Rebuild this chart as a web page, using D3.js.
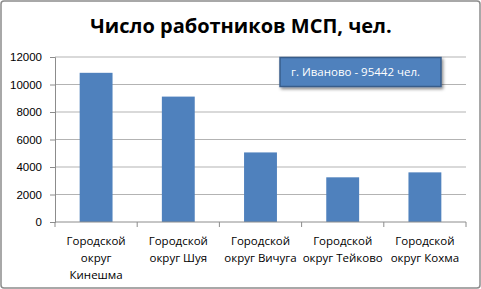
<!DOCTYPE html>
<html>
<head>
<meta charset="utf-8">
<script src="https://cdn.jsdelivr.net/npm/d3@7"></script>
<style>
  body { margin: 0; background: #fff; }
  svg { display: block; font-family: "Open Sans", "Liberation Sans", sans-serif; }
</style>
</head>
<body>
<svg id="chart"></svg>
<script>
const categories = [
  ["Городской", "округ", "Кинешма"],
  ["Городской", "округ Шуя"],
  ["Городской", "округ Вичуга"],
  ["Городской", "округ Тейково"],
  ["Городской", "округ Кохма"]
];
const values = [10850, 9120, 5060, 3250, 3610];
const yTicks = [0, 2000, 4000, 6000, 8000, 10000, 12000];
const title = "Число работников МСП, чел.";
const note = "г. Иваново - 95442 чел.";

const width = 481, height = 289;
const margin = { top: 57, right: 15, bottom: 67, left: 55 };

const svg = d3.select("#chart").attr("width", width).attr("height", height);

// outer frame
svg.append("rect")
  .attr("x", 1).attr("y", 1)
  .attr("width", width - 2).attr("height", height - 2)
  .attr("rx", 3)
  .attr("fill", "#fff")
  .attr("stroke", "#8c8c8c")
  .attr("stroke-width", 1.5);

const innerW = width - margin.left - margin.right;
const innerH = height - margin.top - margin.bottom;

const x = d3.scaleBand()
  .domain(d3.range(categories.length))
  .range([0, innerW])
  .paddingInner(0.6)
  .paddingOuter(0.3);

const xBand = d3.scaleBand()
  .domain(d3.range(categories.length))
  .range([0, innerW]);

const y = d3.scaleLinear().domain([0, 12000]).range([innerH, 0]);

const g = svg.append("g").attr("transform", `translate(${margin.left},${margin.top})`);

// gridlines
g.append("g")
  .selectAll("line")
  .data(yTicks.slice(1))
  .join("line")
  .attr("x1", 0).attr("x2", innerW)
  .attr("y1", d => y(d)).attr("y2", d => y(d))
  .attr("stroke", "#b3b3b3");

// y axis
const yAxis = g.append("g")
  .call(d3.axisLeft(y).tickValues(yTicks).tickFormat(d3.format("d")).tickSize(5).tickPadding(8));
yAxis.select(".domain").attr("stroke", "#8c8c8c");
yAxis.selectAll(".tick line").attr("stroke", "#8c8c8c");
yAxis.selectAll("text").attr("font-size", 11.5).attr("fill", "#000");

// bars
g.selectAll("rect.bar")
  .data(values)
  .join("rect")
  .attr("class", "bar")
  .attr("x", (d, i) => x(i))
  .attr("width", x.bandwidth())
  .attr("y", d => y(d))
  .attr("height", d => innerH - y(d))
  .attr("fill", "#4f81bd");

// x axis
const xAxis = g.append("g").attr("transform", `translate(0,${innerH})`);
xAxis.append("line")
  .attr("x1", 0).attr("x2", innerW)
  .attr("stroke", "#8c8c8c");
xAxis.selectAll("line.tick")
  .data(d3.range(categories.length + 1))
  .join("line")
  .attr("class", "tick")
  .attr("x1", i => i * xBand.step()).attr("x2", i => i * xBand.step())
  .attr("y1", 0).attr("y2", 5)
  .attr("stroke", "#8c8c8c");

xAxis.selectAll("text.cat")
  .data(categories)
  .join("text")
  .attr("class", "cat")
  .attr("text-anchor", "middle")
  .attr("font-size", 11.5)
  .attr("fill", "#000")
  .attr("x", (d, i) => xBand(i) + xBand.bandwidth() / 2)
  .attr("y", 23)
  .each(function(lines) {
    d3.select(this).selectAll("tspan")
      .data(lines)
      .join("tspan")
      .attr("x", d3.select(this).attr("x"))
      .attr("dy", (d, j) => j === 0 ? 0 : 17)
      .text(d => d);
  });

// title
svg.append("text")
  .attr("x", 241).attr("y", 33)
  .attr("text-anchor", "middle")
  .attr("font-size", 20)
  .attr("font-weight", "bold")
  .attr("fill", "#000")
  .text(title);

// note box
const defs = svg.append("defs");
const f = defs.append("filter").attr("id", "shadow").attr("x", "-10%").attr("y", "-20%").attr("width", "130%").attr("height", "160%");
f.append("feDropShadow").attr("dx", 1.5).attr("dy", 2).attr("stdDeviation", 1.5).attr("flood-color", "#000").attr("flood-opacity", 0.45);

svg.append("rect")
  .attr("x", 280).attr("y", 57.5)
  .attr("width", 161).attr("height", 29)
  .attr("fill", "#4f81bd")
  .attr("stroke", "#385d8a")
  .attr("stroke-width", 1.5)
  .attr("filter", "url(#shadow)");

svg.append("text")
  .attr("x", 291).attr("y", 76)
  .attr("font-size", 11.5)
  .attr("fill", "#fff")
  .text(note);
</script>
</body>
</html>
